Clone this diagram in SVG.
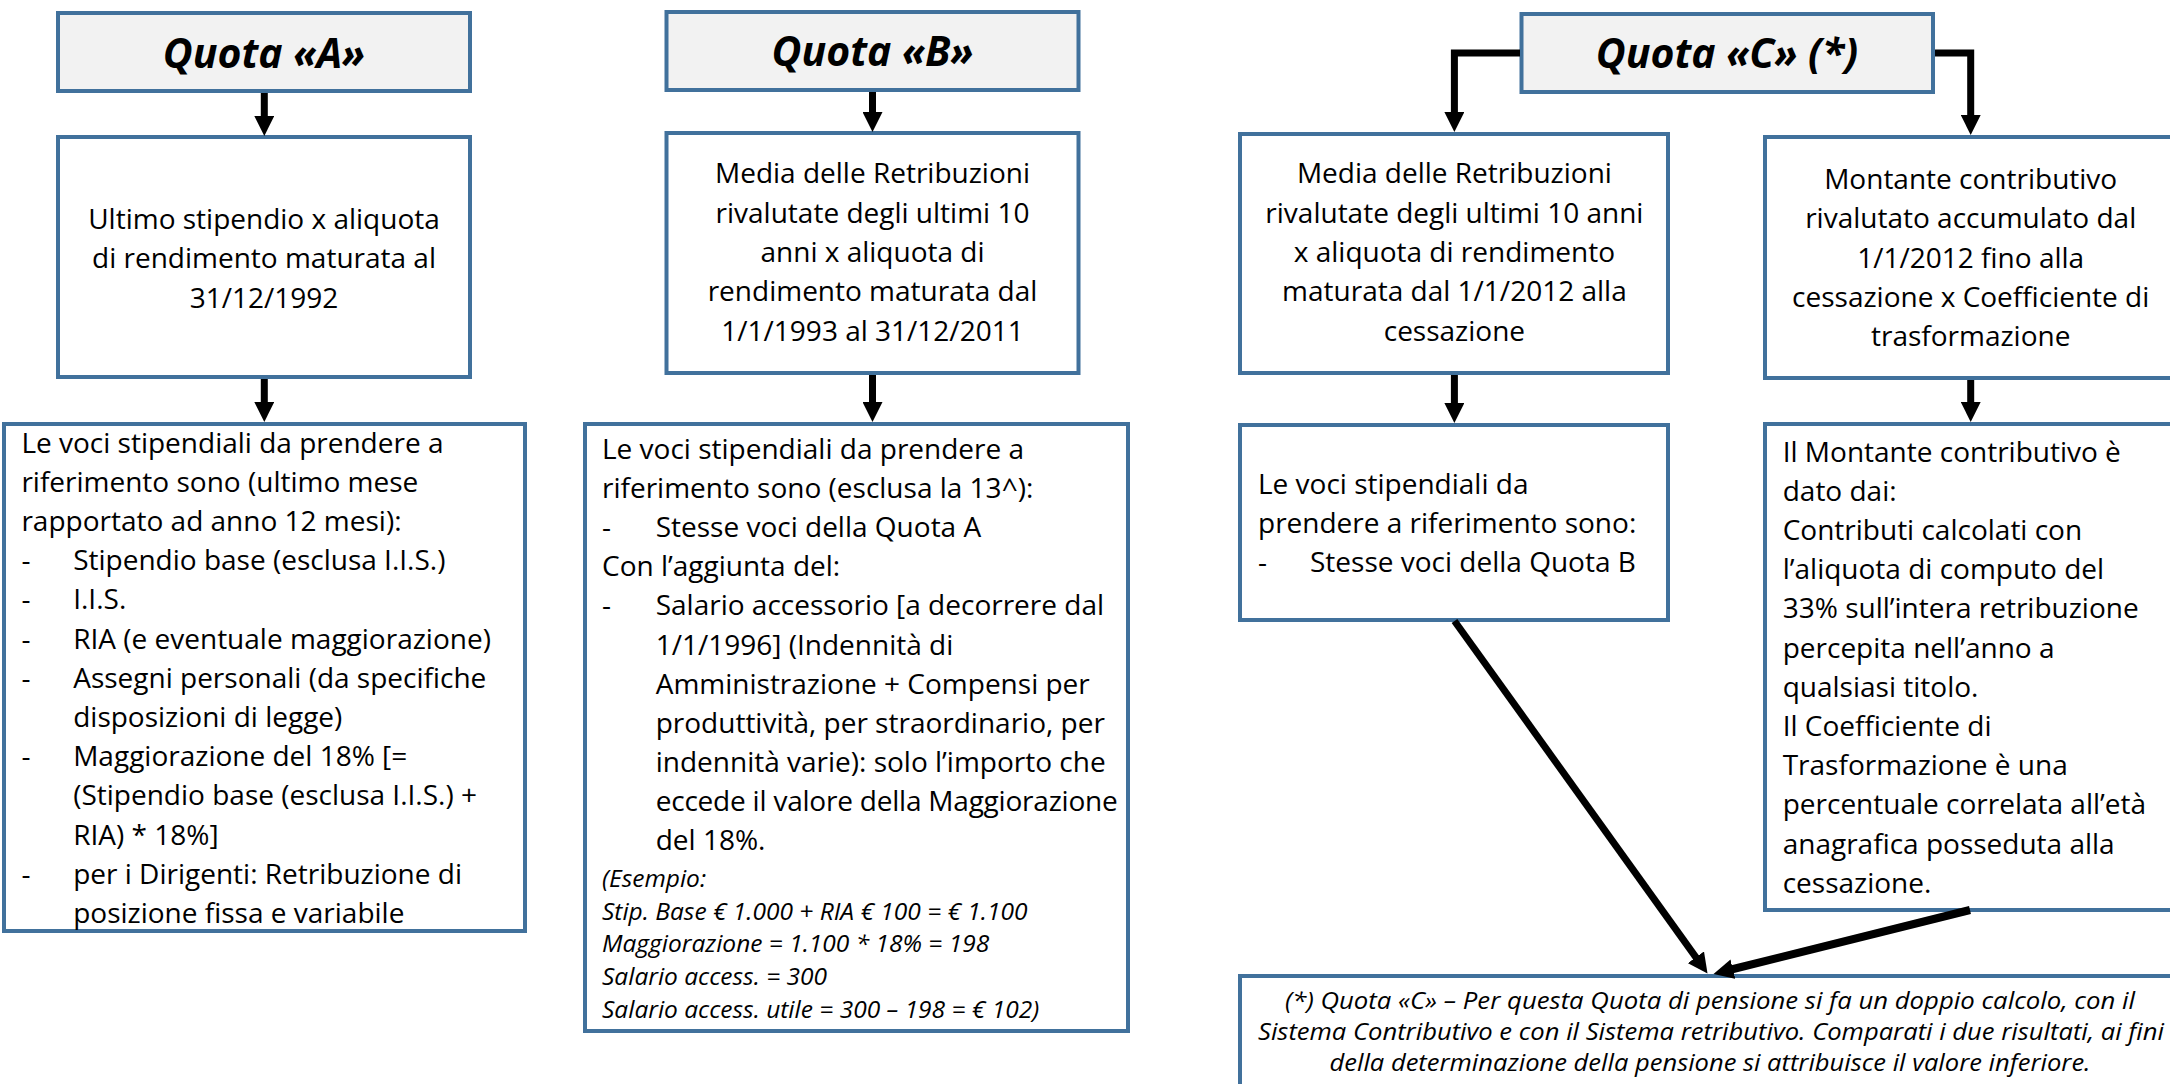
<svg xmlns="http://www.w3.org/2000/svg" width="2170" height="1084" viewBox="0 0 2170 1084">
<defs>
<style>
.box{fill:#ffffff;stroke:#41719c;stroke-width:4}
.hdr{fill:#f2f2f2;stroke:#41719c;stroke-width:4}
.ht{font-family:"Open Sans","Liberation Sans",sans-serif;font-weight:700;font-style:italic;font-size:41px;text-anchor:middle;fill:#000}
.t{font-family:"Open Sans","Liberation Sans",sans-serif;font-size:28px;fill:#000}
.c{text-anchor:middle}
.it{font-style:italic;font-size:24.5px}
.note{font-family:"Open Sans","Liberation Sans",sans-serif;font-style:italic;font-size:24.5px;text-anchor:middle;fill:#000}
.conn{fill:none;stroke:#000;stroke-width:7;stroke-linejoin:miter;marker-end:url(#arr)}
</style>
<marker id="arr" viewBox="0 0 20 20" markerWidth="20" markerHeight="20" markerUnits="userSpaceOnUse" refX="10" refY="10" orient="auto">
<path d="M0,0 L20,10 L0,20 Z" fill="#000"/>
</marker>
</defs>
<rect width="2170" height="1084" fill="#ffffff"/>

<g id="quotaA">
<rect class="hdr" x="58" y="13" width="412" height="78"/>
<text class="ht" x="264" y="68">Quota «A»</text>
</g>
<g id="a2">
<rect class="box" x="58" y="137" width="412" height="240"/>
<text class="t c" x="264" y="228.5">Ultimo stipendio x aliquota</text>
<text class="t c" x="264" y="268">di rendimento maturata al</text>
<text class="t c" x="264" y="307.5">31/12/1992</text>
</g>
<g id="a3">
<rect class="box" x="4" y="424" width="521" height="507"/>
<text class="t" x="21.4" y="452.5">Le voci stipendiali da prendere a</text>
<text class="t" x="21.4" y="491.7">riferimento sono (ultimo mese</text>
<text class="t" x="21.4" y="530.9">rapportato ad anno 12 mesi):</text>
<text class="t" x="21.4" y="570.1">-</text><text class="t" x="73.2" y="570.1">Stipendio base (esclusa I.I.S.)</text>
<text class="t" x="21.4" y="609.3">-</text><text class="t" x="73.2" y="609.3">I.I.S.</text>
<text class="t" x="21.4" y="648.5">-</text><text class="t" x="73.2" y="648.5">RIA (e eventuale maggiorazione)</text>
<text class="t" x="21.4" y="687.7">-</text><text class="t" x="73.2" y="687.7">Assegni personali (da specifiche</text>
<text class="t" x="73.2" y="726.9">disposizioni di legge)</text>
<text class="t" x="21.4" y="766.1">-</text><text class="t" x="73.2" y="766.1">Maggiorazione del 18% [=</text>
<text class="t" x="73.2" y="805.3">(Stipendio base (esclusa I.I.S.) +</text>
<text class="t" x="73.2" y="844.5">RIA) * 18%]</text>
<text class="t" x="21.4" y="883.7">-</text><text class="t" x="73.2" y="883.7">per i Dirigenti: Retribuzione di</text>
<text class="t" x="73.2" y="922.9">posizione fissa e variabile</text>
</g>

<g id="quotaB">
<rect class="hdr" x="666.5" y="12" width="412" height="78"/>
<text class="ht" x="872.5" y="66">Quota «B»</text>
</g>
<g id="b2">
<rect class="box" x="666.5" y="133" width="412" height="240"/>
<text class="t c" x="872.5" y="183.3">Media delle Retribuzioni</text>
<text class="t c" x="872.5" y="222.6">rivalutate degli ultimi 10</text>
<text class="t c" x="872.5" y="262">anni x aliquota di</text>
<text class="t c" x="872.5" y="301.3">rendimento maturata dal</text>
<text class="t c" x="872.5" y="340.7">1/1/1993 al 31/12/2011</text>
</g>
<g id="b3">
<rect class="box" x="585" y="424" width="543" height="607"/>
<text class="t" x="602" y="458.8">Le voci stipendiali da prendere a</text>
<text class="t" x="602" y="497.9">riferimento sono (esclusa la 13^):</text>
<text class="t" x="602" y="537.1">-</text><text class="t" x="655.7" y="537.1">Stesse voci della Quota A</text>
<text class="t" x="602" y="576.2">Con l’aggiunta del:</text>
<text class="t" x="602" y="615.4">-</text><text class="t" x="655.7" y="615.4">Salario accessorio [a decorrere dal</text>
<text class="t" x="655.7" y="654.5">1/1/1996] (Indennità di</text>
<text class="t" x="655.7" y="693.7">Amministrazione + Compensi per</text>
<text class="t" x="655.7" y="732.8">produttività, per straordinario, per</text>
<text class="t" x="655.7" y="772">indennità varie): solo l’importo che</text>
<text class="t" x="655.7" y="811.1" textLength="462" lengthAdjust="spacing">eccede il valore della Maggiorazione</text>
<text class="t" x="655.7" y="850.3">del 18%.</text>
<text class="t it" x="602" y="886.6">(Esempio:</text>
<text class="t it" x="602" y="919.5">Stip. Base € 1.000 + RIA € 100 = € 1.100</text>
<text class="t it" x="602" y="952.4">Maggiorazione = 1.100 * 18% = 198</text>
<text class="t it" x="602" y="985.3">Salario access. = 300</text>
<text class="t it" x="602" y="1018.2">Salario access. utile = 300 – 198 = € 102)</text>
</g>

<g id="quotaC">
<rect class="hdr" x="1521.5" y="14" width="411.5" height="78"/>
<text class="ht" x="1727" y="68">Quota «C» (*)</text>
</g>
<g id="c1">
<rect class="box" x="1240" y="134" width="428" height="239"/>
<text class="t c" x="1454.4" y="183.3">Media delle Retribuzioni</text>
<text class="t c" x="1454.4" y="222.6">rivalutate degli ultimi 10 anni</text>
<text class="t c" x="1454.4" y="262">x aliquota di rendimento</text>
<text class="t c" x="1454.4" y="301.3">maturata dal 1/1/2012 alla</text>
<text class="t c" x="1454.4" y="340.7">cessazione</text>
</g>
<g id="c2">
<rect class="box" x="1765" y="137" width="411" height="241"/>
<text class="t c" x="1970.7" y="189.3">Montante contributivo</text>
<text class="t c" x="1970.7" y="228.3">rivalutato accumulato dal</text>
<text class="t c" x="1970.7" y="267.7">1/1/2012 fino alla</text>
<text class="t c" x="1970.7" y="306.7">cessazione x Coefficiente di</text>
<text class="t c" x="1970.7" y="345.7">trasformazione</text>
</g>
<g id="c3">
<rect class="box" x="1240" y="425" width="428" height="195"/>
<text class="t" x="1258" y="493.5">Le voci stipendiali da</text>
<text class="t" x="1258" y="532.7">prendere a riferimento sono:</text>
<text class="t" x="1258" y="571.9">-</text><text class="t" x="1310" y="571.9">Stesse voci della Quota B</text>
</g>
<g id="c4">
<rect class="box" x="1765" y="424" width="411" height="486"/>
<text class="t" x="1782.7" y="461.5">Il Montante contributivo è</text>
<text class="t" x="1782.7" y="500.7">dato dai:</text>
<text class="t" x="1782.7" y="539.9">Contributi calcolati con</text>
<text class="t" x="1782.7" y="579.1">l’aliquota di computo del</text>
<text class="t" x="1782.7" y="618.3">33% sull’intera retribuzione</text>
<text class="t" x="1782.7" y="657.5">percepita nell’anno a</text>
<text class="t" x="1782.7" y="696.7">qualsiasi titolo.</text>
<text class="t" x="1782.7" y="735.9">Il Coefficiente di</text>
<text class="t" x="1782.7" y="775.1">Trasformazione è una</text>
<text class="t" x="1782.7" y="814.3">percentuale correlata all’età</text>
<text class="t" x="1782.7" y="853.5">anagrafica posseduta alla</text>
<text class="t" x="1782.7" y="892.7">cessazione.</text>
</g>
<g id="note">
<rect class="box" x="1240" y="976" width="945" height="124"/>
<text class="note" x="1710" y="1009" textLength="850" lengthAdjust="spacingAndGlyphs">(*) Quota «C» – Per questa Quota di pensione si fa un doppio calcolo, con il</text>
<text class="note" x="1711" y="1040" textLength="906" lengthAdjust="spacingAndGlyphs">Sistema Contributivo e con il Sistema retributivo. Comparati i due risultati, ai fini</text>
<text class="note" x="1710" y="1071" textLength="761" lengthAdjust="spacingAndGlyphs">della determinazione della pensione si attribuisce il valore inferiore.</text>
</g>

<g id="connectors">
<line class="conn" x1="264.3" y1="93" x2="264.3" y2="126"/>
<line class="conn" x1="264.3" y1="379" x2="264.3" y2="412"/>
<line class="conn" x1="872.5" y1="92" x2="872.5" y2="122"/>
<line class="conn" x1="872.5" y1="375" x2="872.5" y2="412"/>
<polyline class="conn" points="1520,53 1454.4,53 1454.4,122"/>
<polyline class="conn" points="1935,53 1970.7,53 1970.7,125"/>
<line class="conn" x1="1454.4" y1="375" x2="1454.4" y2="413"/>
<line class="conn" x1="1970.7" y1="380" x2="1970.7" y2="412"/>
<line class="conn" x1="1454.5" y1="621" x2="1701.7" y2="965.4"/>
<line class="conn" style="stroke-width:8" x1="1970" y1="910" x2="1723.2" y2="971.5"/>
</g>
</svg>
